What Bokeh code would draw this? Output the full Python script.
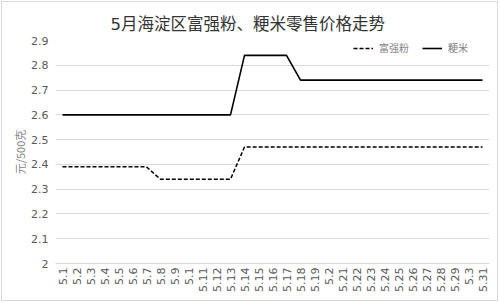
import math
from bokeh.plotting import figure
from bokeh.models import Title, Legend, LegendItem, FixedTicker, InlineStyleSheet
from bokeh.embed import file_html
from bokeh.resources import INLINE

dates = ["5.1", "5.2", "5.3", "5.4", "5.5", "5.6", "5.7", "5.8", "5.9", "5.1",
         "5.11", "5.12", "5.13", "5.14", "5.15", "5.16", "5.17", "5.18", "5.19", "5.2",
         "5.21", "5.22", "5.23", "5.24", "5.25", "5.26", "5.27", "5.28", "5.29", "5.3", "5.31"]
fuqiangfen = [2.39, 2.39, 2.39, 2.39, 2.39, 2.39, 2.39, 2.34, 2.34, 2.34,
              2.34, 2.34, 2.34, 2.47, 2.47, 2.47, 2.47, 2.47, 2.47, 2.47,
              2.47, 2.47, 2.47, 2.47, 2.47, 2.47, 2.47, 2.47, 2.47, 2.47, 2.47]
jingmi = [2.6, 2.6, 2.6, 2.6, 2.6, 2.6, 2.6, 2.6, 2.6, 2.6,
          2.6, 2.6, 2.6, 2.84, 2.84, 2.84, 2.84, 2.74, 2.74, 2.74,
          2.74, 2.74, 2.74, 2.74, 2.74, 2.74, 2.74, 2.74, 2.74, 2.74, 2.74]
y_ticks = [2.0, 2.1, 2.2, 2.3, 2.4, 2.5, 2.6, 2.7, 2.8, 2.9]
y_tick_labels = ["2", "2.1", "2.2", "2.3", "2.4", "2.5", "2.6", "2.7", "2.8", "2.9"]

title_text = "5月海淀区富强粉、粳米零售价格走势"
y_label = "元/500克"
names = ["富强粉", "粳米"]

xs = list(range(len(dates)))

W, H = 500, 303
L, R, T, B = 55, 11, 40, 40

p = figure(width=W, height=H, output_backend="svg", toolbar_location=None,
           x_range=(-0.5, len(dates) - 0.5), y_range=(2.0, 2.9),
           min_border_left=L, min_border_right=R, min_border_top=T, min_border_bottom=B)
p.title = None
p.outline_line_color = None
p.background_fill_color = "white"
p.border_fill_color = "white"
p.stylesheets = [InlineStyleSheet(css=(
    ":host { position: relative; }"
    ":host::after { content: ''; position: absolute; left: 1px; top: 1px; right: 2px; bottom: 2px;"
    " border: 1px solid #d9d9d9; pointer-events: none; z-index: 100; }"))]

FONT = "DejaVu Sans, Noto Sans CJK SC"
GRAY = "#595959"

# axes
p.xaxis.ticker = FixedTicker(ticks=xs)
p.xaxis.major_label_overrides = {i: d for i, d in enumerate(dates)}
p.xaxis.major_label_orientation = math.pi / 2
p.xaxis.axis_line_color = "#d9d9d9"
p.xaxis.major_tick_line_color = None
p.xaxis.minor_tick_line_color = None
p.xaxis.major_tick_out = 0
p.xaxis.major_tick_in = 0
p.xaxis.major_label_standoff = 4
p.xaxis.major_label_text_font = FONT
p.xaxis.major_label_text_font_size = "11px"
p.xaxis.major_label_text_color = GRAY

p.yaxis.ticker = FixedTicker(ticks=y_ticks)
p.yaxis.major_label_overrides = {t: l for t, l in zip(y_ticks, y_tick_labels)}
p.yaxis.axis_line_color = None
p.yaxis.major_tick_line_color = None
p.yaxis.minor_tick_line_color = None
p.yaxis.major_tick_out = 0
p.yaxis.major_tick_in = 0
p.yaxis.major_label_standoff = 7
p.yaxis.major_label_text_font = FONT
p.yaxis.major_label_text_font_size = "11px"
p.yaxis.major_label_text_color = GRAY
p.yaxis.axis_label = y_label
p.yaxis.axis_label_text_font = "Noto Sans CJK SC"
p.yaxis.axis_label_text_font_style = "normal"
p.yaxis.axis_label_text_font_size = "11px"
p.yaxis.axis_label_text_color = "#7f7f7f"
p.yaxis.axis_label_standoff = 0

p.xgrid.grid_line_color = None
p.ygrid.grid_line_color = "#d9d9d9"
p.ygrid.grid_line_width = 1

r1 = p.line(xs, fuqiangfen, line_color="black", line_width=1.5, line_dash="4 2")
r2 = p.line(xs, jingmi, line_color="black", line_width=1.6)

legend = Legend(items=[LegendItem(label=names[0], renderers=[r1]),
                       LegendItem(label=names[1], renderers=[r2])],
                orientation="horizontal", location=(298, 208),
                border_line_color=None, background_fill_alpha=0,
                padding=0, margin=0, spacing=13, glyph_width=20, glyph_height=14,
                label_height=14, label_standoff=6,
                label_text_font="Noto Sans CJK SC", label_text_font_size="10px",
                label_text_color="#7f7f7f")
p.add_layout(legend)

title = Title(text=title_text, align="left", offset=55, standoff=14,
              text_font=FONT, text_font_size="16.5px", text_font_style="normal",
              text_color="#333333")
p.add_layout(title, "above")

open("out.html", "w").write(file_html(p, INLINE))
